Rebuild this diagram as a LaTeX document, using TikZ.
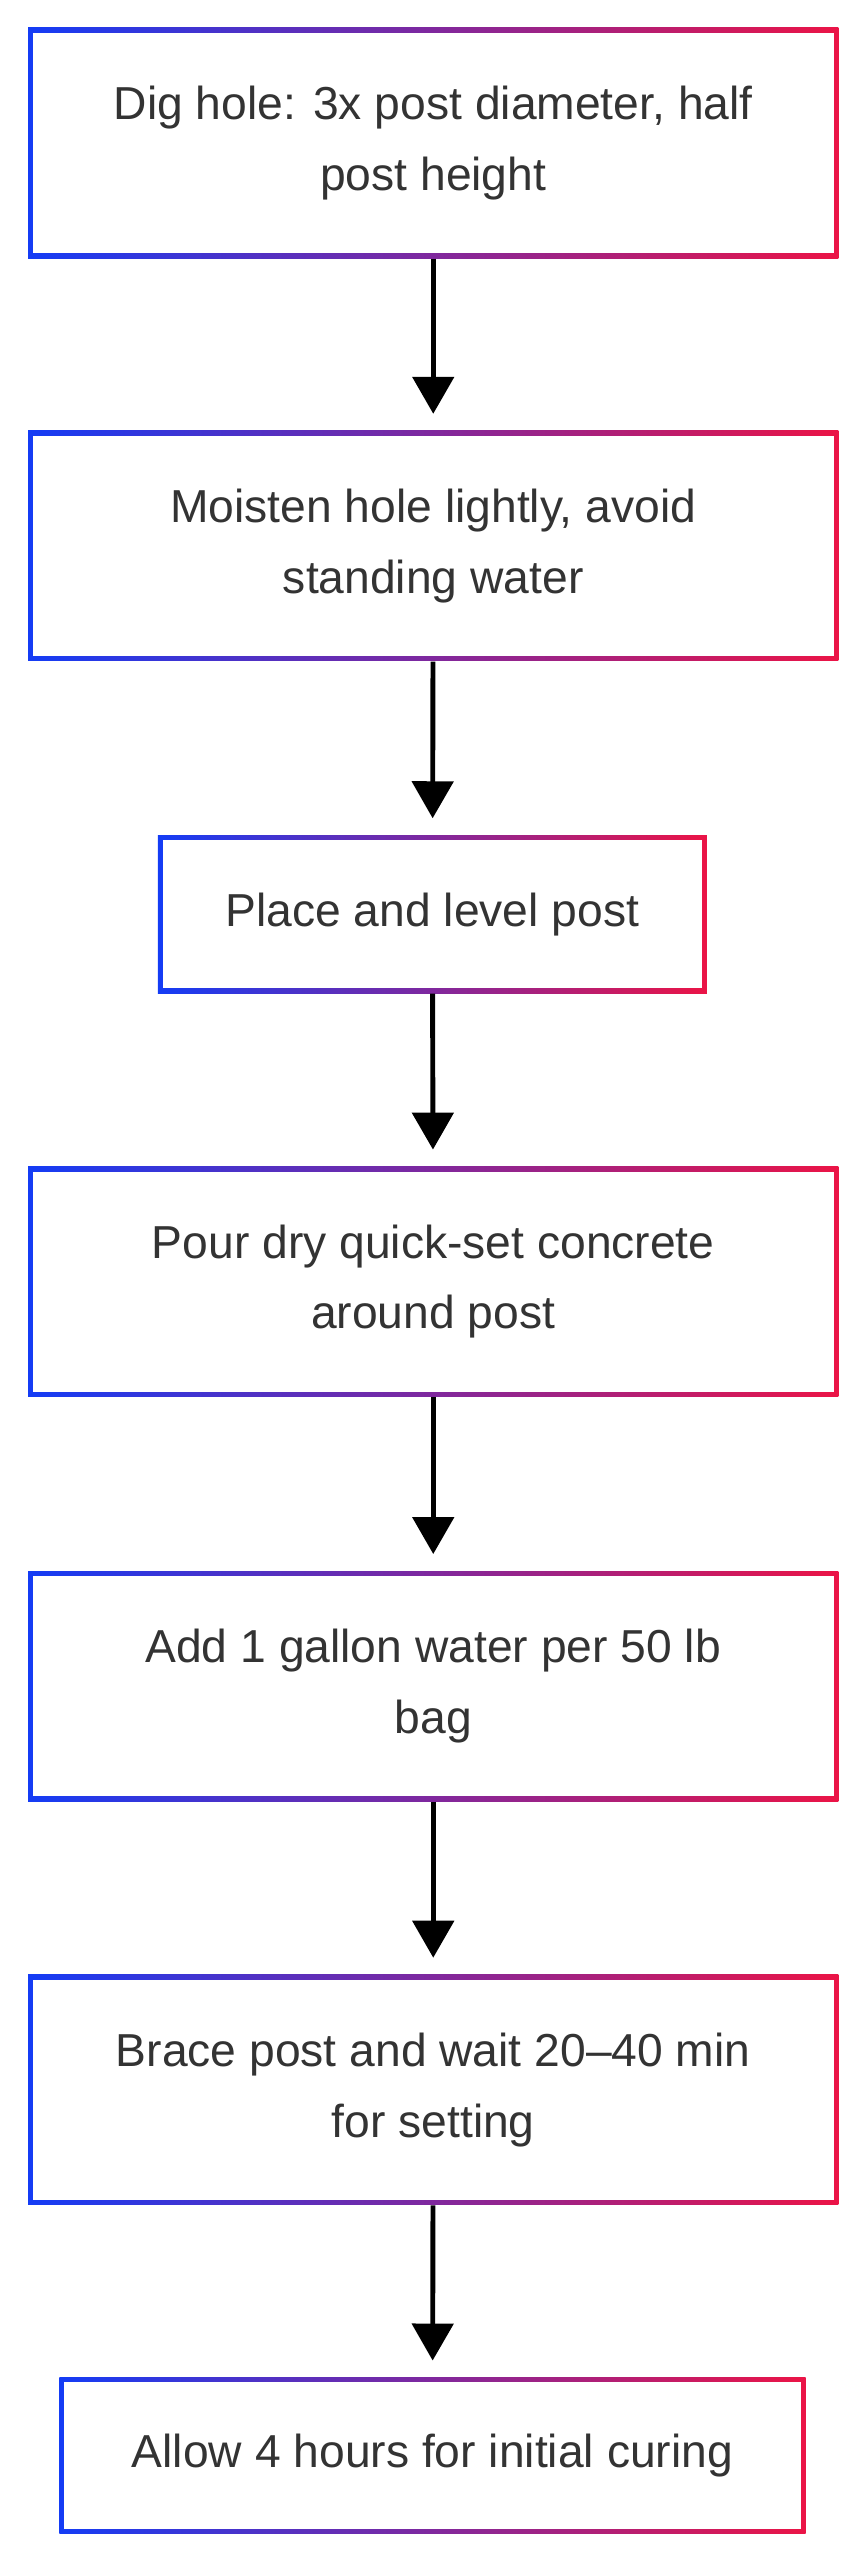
\documentclass[tikz,border=0pt]{standalone}
\usepackage{fontspec}
\setmainfont{Liberation Sans}
\usetikzlibrary{positioning,arrows.meta}
\definecolor{edgeblue}{RGB}{20,60,245}
\definecolor{edgered}{RGB}{235,20,70}
\definecolor{textgray}{RGB}{51,51,51}

\begin{document}
\begin{tikzpicture}[
    x=0.02cm, y=-0.02cm,
    stepbox/.style={rectangle, left color=edgeblue, right color=edgered, minimum width=9.86cm, minimum height=2.8cm,
        inner sep=0pt, align=center, text=textgray, font=\fontsize{16}{24.5}\selectfont,
        path picture={\fill[white] ([shift={(0.06cm,-0.06cm)}]path picture bounding box.north west) rectangle ([shift={(-0.06cm,0.06cm)}]path picture bounding box.south east);}},
    shortbox/.style={stepbox, minimum width=6.68cm, minimum height=1.92cm},
    lastbox/.style={stepbox, minimum width=9.08cm, minimum height=1.9cm},
    flow/.style={-{Triangle[width=0.5cm,length=0.45cm]}, line width=1.7pt, shorten >=0.2cm}
]
\useasboundingbox (0,0) rectangle (525,1557);

\node[stepbox] (dig) at (263.5,87) {Dig hole: 3x post diameter, half\\post height};
\node[stepbox] (moisten) at (263.5,332) {Moisten hole lightly, avoid\\standing water};
\node[shortbox] (place) at (263,556) {Place and level post};
\node[stepbox] (pour) at (263.5,779.5) {Pour dry quick-set concrete\\around post};
\node[stepbox] (water) at (263.5,1025.5) {Add 1 gallon water per 50 lb\\bag};
\node[stepbox] (brace) at (263.5,1271) {Brace post and wait 20–40 min\\for setting};
\node[lastbox] (cure) at (263,1493.5) {Allow 4 hours for initial curing};

\draw[flow] (dig) -- (moisten);
\draw[flow] (moisten) -- (place);
\draw[flow] (place) -- (pour);
\draw[flow] (pour) -- (water);
\draw[flow] (water) -- (brace);
\draw[flow] (brace) -- (cure);

\end{tikzpicture}
\end{document}
